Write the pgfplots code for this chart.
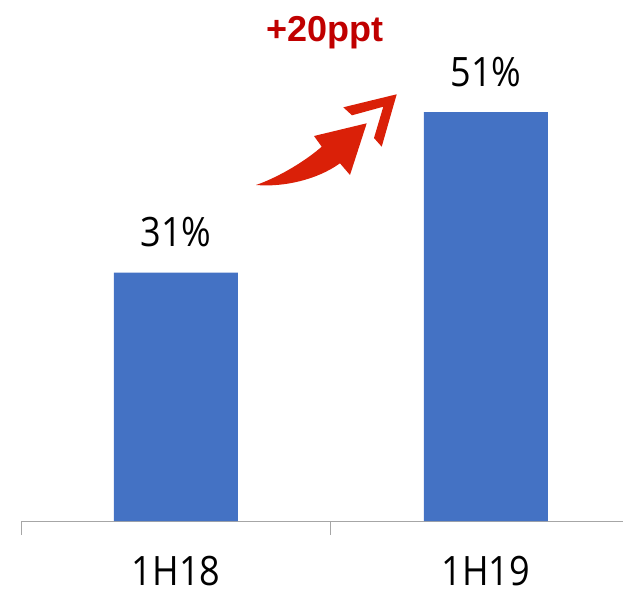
\documentclass[border=0pt]{standalone}
\usepackage{pgfplots}
\pgfplotsset{compat=1.18}
\usepackage{fontspec}
\setmainfont{Open Sans}
\newfontfamily\labfont[FakeStretch=0.89]{Open Sans}
\newfontfamily\boldfont{Liberation Sans}
\newcommand\lf{\labfont\fontsize{40.5}{44}\selectfont}
\definecolor{barblue}{HTML}{4472C4}
\definecolor{axgray}{HTML}{A6A6A6}
\definecolor{txtred}{HTML}{C00000}
\definecolor{arrred}{HTML}{DA2008}
\pgfplotstableread{
x y
0 31
1 51
}\datatable
\begin{document}
\begin{tikzpicture}[x=1pt,y=1pt]
\path[use as bounding box] (0,0) rectangle (623,594);
\begin{axis}[
  at={(21pt,73pt)}, anchor=south west, scale only axis,
  width=602pt, height=521pt,
  xmin=-0.5, xmax=1.442, ymin=0, ymax=65,
  axis y line=none, axis x line*=bottom,
  axis line style={draw=axgray, line width=1pt, -},
  xtick={0,1}, xticklabels={1H18,1H19}, major tick length=0pt,
  extra x ticks={-0.5,0.5}, extra x tick labels={},
  extra x tick style={major tick length=14pt, tick align=outside,
     tick style={draw=axgray, line width=1pt}},
  xticklabel style={font=\lf, anchor=base, yshift=-64pt, inner sep=0pt},
  ytick=\empty,
  /pgf/number format/assume math mode=true,
  ybar, bar width=0.4,
  nodes near coords={\pgfmathprintnumber[assume math mode=true]{\pgfplotspointmeta}\%},
  every node near coord/.append style={font=\lf, anchor=base, yshift=26pt, inner sep=0pt, text=black},
  clip=false,
]
\addplot[fill=barblue, draw=none] table[x=x, y=y] {\datatable};
\end{axis}
% arrow decoration
\fill[arrred] (396.7,499.7) -- (343.3,486.7) -- (352,478.7) -- (383.3,487.3) -- (374,456) -- (381.7,447.3) -- cycle;
\fill[arrred] (256,409) .. controls (280,417.3) and (306.7,434) .. (321.7,447.3)
  -- (314,458) -- (366.7,470.7) -- (350,419) -- (340,430.7)
  .. controls (316.7,414) and (283.3,406.7) .. (256,409) -- cycle;
\node[anchor=base, inner sep=0pt, text=txtred, font=\boldfont\bfseries\fontsize{36}{38}\selectfont] at (325,552) {+20ppt};
\end{tikzpicture}
\end{document}
